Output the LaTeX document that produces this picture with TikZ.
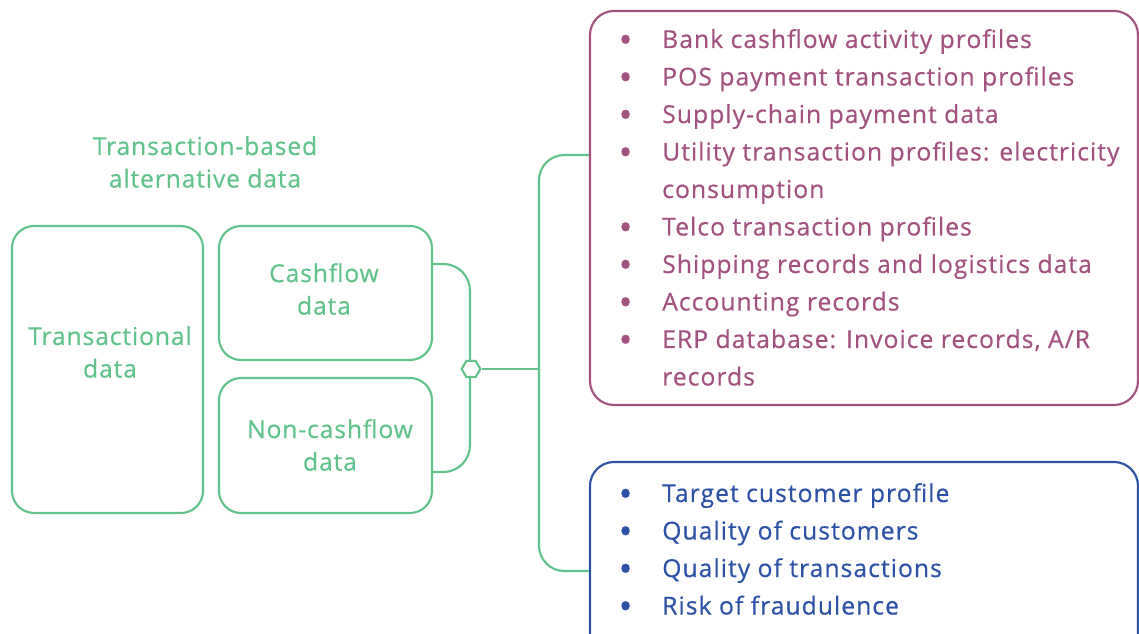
\documentclass[tikz,border=0pt]{standalone}
\usepackage{fontspec}
\usepackage{graphicx}
\setmainfont{Open Sans}
\newfontfamily\lsA[LetterSpace=3.5,FakeBold=0.5]{Open Sans}
\newfontfamily\lsB[LetterSpace=4.2,FakeBold=0.5]{Open Sans}
\usetikzlibrary{fit,shapes.geometric}
\definecolor{grn}{HTML}{62C28C}
\definecolor{pnk}{HTML}{A3527F}
\definecolor{blu}{HTML}{2B52A6}
\newcommand{\bul}{\makebox[30.75pt][l]{\hspace*{-2pt}\raisebox{-3.6pt}{\scalebox{1.5}{•}}}}
\begin{document}
\begin{tikzpicture}[x=0.75pt,y=-0.75pt,
  gbox/.style={draw=grn,line width=1.6pt,rounded corners=16.5pt,inner sep=0pt},
  gtext/.style={text=grn,align=center,font=\lsA\fontsize{18.5}{24.4}\selectfont},
  gline/.style={draw=grn,line width=1.6pt},
  item/.style={anchor=base west,inner sep=0pt,font=\lsB\fontsize{18.5}{28}\selectfont},
]
\useasboundingbox (0,0) rectangle (1139,634);
\clip (0,0) rectangle (1139,634);
% left boxes
\node[gbox,fit={(12,226)(203,513)}] (trans) {};
\node[gbox,fit={(219,226)(432,360)}] (cash) {};
\node[gbox,fit={(219,378)(432,513)}] (noncash) {};
\node[gtext] (head) at (205,162) {Transaction-based\\alternative data};
\node[gtext] (transT) at (110,352) {Transactional\\data};
\node[gtext] (cashT) at (324,289) {Cashflow\\data};
\node[gtext] (noncashT) at (330,445) {Non-cashflow\\data};
% right boxes
\node[draw=pnk,line width=1.6pt,rounded corners=18pt,inner sep=0pt,fit={(590,11)(1138,405)}] (pink) {};
\node[draw=blu,line width=1.6pt,rounded corners=18pt,inner sep=0pt,fit={(590,462)(1138,660)}] (blue) {};
% bracket
\node[gline,regular polygon,regular polygon sides=6,minimum size=14pt,inner sep=0pt,fill=white] (hex) at (471,369) {};
\coordinate (bt) at (432,264);
\coordinate (bb) at (432,472);
\draw[gline,rounded corners=20pt] (bt) -- (470,264) -- (470,362);
\draw[gline,rounded corners=20pt] (470,376) -- (470,472) -- (bb);
\coordinate (sp) at (539,369);
\draw[gline] (hex.east) -- (sp);
\coordinate (pt) at (pink.west |- 0,155);
\coordinate (pb) at (blue.west |- 0,571);
\draw[gline,rounded corners=19pt] (pt) -- (539,155) -- (539,571) -- (pb);
% pink items
\foreach \t/\y/\n in {{\bul Bank cashflow activity profiles}/48/p1,
  {\bul POS payment transaction profiles}/85.5/p2,
  {\bul Supply-chain payment data}/123/p3,
  {\bul Utility transaction profiles: electricity}/160.5/p4,
  {\hspace*{30.75pt}consumption}/198/p5,
  {\bul Telco transaction profiles}/235.5/p6,
  {\bul Shipping records and logistics data}/273/p7,
  {\bul Accounting records}/310.5/p8,
  {\bul ERP database: Invoice records, A/R}/348/p9,
  {\hspace*{30.75pt}records}/385.5/p10}
  \node[item,text=pnk] (\n) at (621,\y) {\t};
% blue items
\foreach \t/\y/\n in {{Target customer profile}/502/b1,
  {Quality of customers}/539.5/b2,
  {Quality of transactions}/577/b3,
  {Risk of fraudulence}/614.5/b4}
  \node[item,text=blu] (\n) at (621,\y) {\bul\t};
\end{tikzpicture}
\end{document}
